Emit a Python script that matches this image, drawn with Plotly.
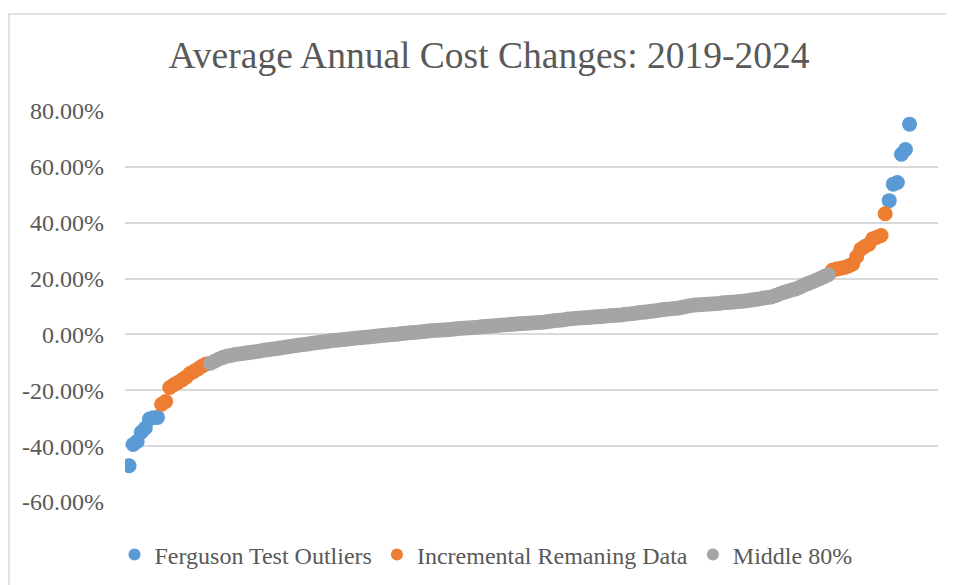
import plotly.graph_objects as go

# ---- data (values in percent, sorted ascending) ----
outliers_low = [-47.0, -39.4, -38.3, -35.0, -33.5, -30.3, -29.8, -29.7]
incremental_low = [-25.0, -24.0, -19.0, -18.0, -17.2, -16.3, -15.3, -14.0,
                   -13.2, -12.3, -11.3, -10.6]
middle_80 = [
    -10.3, -9.6, -8.9, -8.3, -7.8, -7.5, -7.2, -7.0, -6.8, -6.6,
    -6.4, -6.2, -6.0, -5.7, -5.5, -5.3, -5.1, -4.9, -4.7, -4.4,
    -4.2, -4.0, -3.8, -3.6, -3.4, -3.2, -3.0, -2.8, -2.6, -2.4,
    -2.2, -2.1, -1.9, -1.8, -1.6, -1.5, -1.3, -1.2, -1.0, -0.9,
    -0.7, -0.6, -0.4, -0.3, -0.1, 0.0, 0.1, 0.3, 0.4, 0.6,
    0.7, 0.8, 1.0, 1.1, 1.3, 1.4, 1.5, 1.6, 1.7, 1.8,
    1.9, 2.1, 2.2, 2.3, 2.4, 2.5, 2.6, 2.8, 2.9, 3.0,
    3.1, 3.3, 3.4, 3.5, 3.6, 3.7, 3.8, 3.9, 4.0, 4.1,
    4.2, 4.3, 4.4, 4.6, 4.8, 5.0, 5.1, 5.3, 5.5, 5.6,
    5.8, 5.9, 6.0, 6.1, 6.2, 6.3, 6.4, 6.5, 6.7, 6.8,
    6.9, 7.0, 7.2, 7.3, 7.5, 7.7, 7.9, 8.0, 8.2, 8.4,
    8.6, 8.8, 9.0, 9.1, 9.3, 9.4, 9.7, 10.0, 10.3, 10.5,
    10.6, 10.7, 10.8, 10.9, 11.0, 11.1, 11.3, 11.4, 11.5, 11.6,
    11.8, 11.9, 12.1, 12.3, 12.5, 12.7, 13.0, 13.2, 13.4, 13.9,
    14.5, 15.0, 15.5, 15.9, 16.3, 16.9, 17.6, 18.2, 18.8, 19.4,
    20.0, 20.7, 21.4,
]
incremental_high = [23.0, 23.4, 23.7, 24.0, 24.5, 25.2, 27.8, 30.5, 31.5,
                    32.3, 34.3, 34.8, 35.4, 43.2]
outliers_high = [47.9, 53.8, 54.4, 64.5, 66.2, 75.3]

y_ticks = [-60, -40, -20, 0, 20, 40, 60, 80]
y_tick_labels = ["-60.00%", "-40.00%", "-20.00%", "0.00%", "20.00%",
                 "40.00%", "60.00%", "80.00%"]

title_text = "Average Annual Cost Changes: 2019-2024"
series_names = ["Ferguson Test Outliers", "Incremental Remaning Data", "Middle 80%"]
colors = ["#5B9BD5", "#ED7D31", "#A5A5A5"]

# ---- assemble sorted-rank x positions ----
n_lo_out = len(outliers_low)
n_lo_inc = len(incremental_low)
n_mid = len(middle_80)
n_hi_inc = len(incremental_high)
n_hi_out = len(outliers_high)

start = 1
x_lo_out = list(range(start, start + n_lo_out)); start += n_lo_out
x_lo_inc = list(range(start, start + n_lo_inc)); start += n_lo_inc
x_mid = list(range(start, start + n_mid)); start += n_mid
x_hi_inc = list(range(start, start + n_hi_inc)); start += n_hi_inc
x_hi_out = list(range(start, start + n_hi_out)); start += n_hi_out


def pct(v):
    return [a / 100 for a in v]


serif = "Liberation Serif, Times New Roman, serif"
msize = 15
W, H = 946, 577   # page body has an 8px margin in the 954x585 window
L, T, R, B = 117, 103, 16, 83
PW, PH = W - L - R, H - T - B

fig = go.Figure()
fig.add_trace(go.Scatter(
    x=x_lo_out + [None] + x_hi_out,
    y=pct(outliers_low) + [None] + pct(outliers_high),
    mode="markers", name=series_names[0],
    marker=dict(color=colors[0], size=msize),
))
fig.add_trace(go.Scatter(
    x=x_lo_inc + [None] + x_hi_inc,
    y=pct(incremental_low) + [None] + pct(incremental_high),
    mode="markers", name=series_names[1],
    marker=dict(color=colors[1], size=msize),
))
fig.add_trace(go.Scatter(
    x=x_mid, y=pct(middle_80),
    mode="markers", name=series_names[2],
    marker=dict(color=colors[2], size=msize),
))

fig.update_layout(
    width=W, height=H,
    margin=dict(l=L, r=R, t=T, b=B, autoexpand=False),
    paper_bgcolor="white", plot_bgcolor="white",
    font=dict(family=serif, color="#595959"),
    title=dict(text=title_text, font=dict(family=serif, size=37.5, color="#595959"),
               xref="paper", x=(481 - L) / PW, xanchor="center",
               yref="container", y=1 - 47 / H, yanchor="middle"),
    xaxis=dict(range=[0, 200], showgrid=False, showticklabels=False,
               zeroline=False, showline=False, ticks=""),
    yaxis=dict(range=[-0.6, 0.8], tickvals=pct(y_ticks), ticktext=y_tick_labels,
               showgrid=True, gridcolor="#D9D9D9", gridwidth=1.5,
               zeroline=False, showline=False, ticks="",
               tickfont=dict(family=serif, size=24, color="#595959"),
               ticklabelstandoff=20),
    legend=dict(orientation="h", xref="paper", x=(478 - L) / PW, xanchor="center",
                yref="container", y=1 - 547 / H, yanchor="middle",
                font=dict(family=serif, size=24, color="#595959"),
                itemsizing="constant", itemwidth=30, tracegroupgap=0),
    showlegend=True,
    shapes=[dict(type="rect", xref="paper", yref="paper",
                 x0=(1 - L) / PW, x1=(980 - L) / PW,
                 y0=-(620 - T - PH) / PH, y1=(T + PH - 6) / PH,
                 line=dict(color="#D9D9D9", width=1.5), fillcolor="rgba(0,0,0,0)",
                 layer="below")],
)

fig.write_html("out.html")
